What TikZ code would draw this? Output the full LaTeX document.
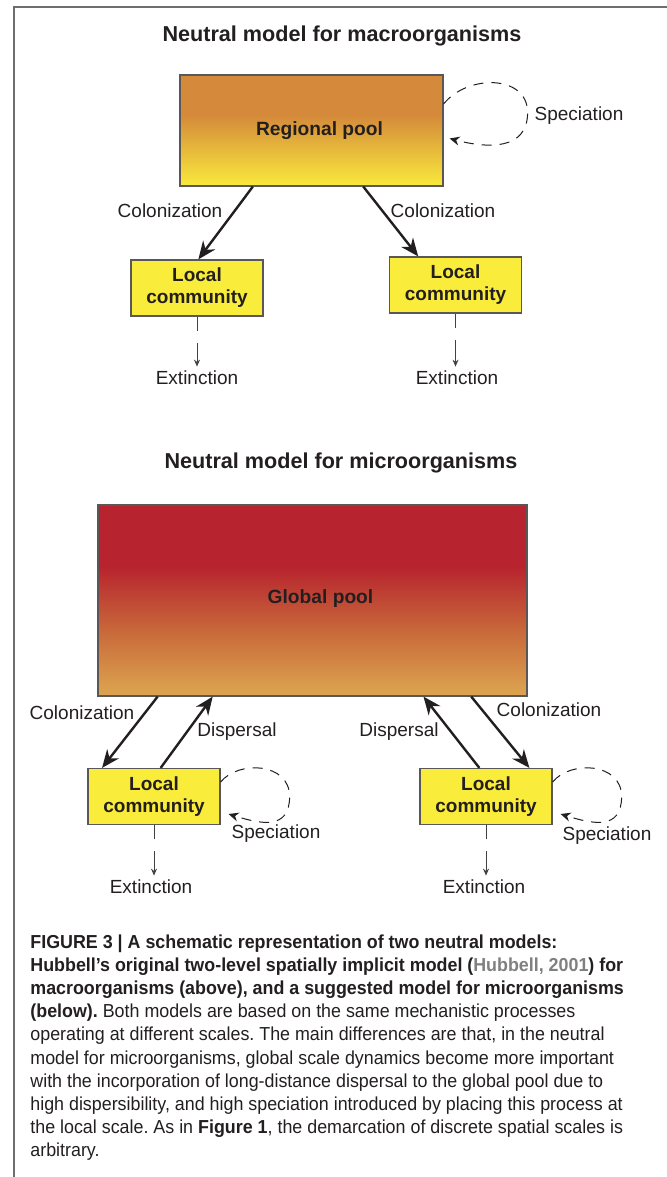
\documentclass[tikz,border=0pt]{standalone}
\usepackage{fontspec}
\setmainfont{Liberation Sans}
\newfontfamily\capfont[FakeStretch=0.95]{Liberation Sans}
\usetikzlibrary{calc}
\usetikzlibrary{arrows.meta}
\usepackage{xcolor}

\definecolor{ink}{RGB}{35,31,32}
\definecolor{framegray}{RGB}{110,110,110}
\definecolor{boxyellow}{RGB}{249,236,58}
\definecolor{regtop}{RGB}{212,138,58}
\definecolor{regbot}{RGB}{250,234,60}
\definecolor{globtop}{RGB}{183,35,46}
\definecolor{globmid}{RGB}{200,105,58}
\definecolor{globbot}{RGB}{221,166,80}
\definecolor{citegray}{RGB}{128,128,128}
\pgfdeclareverticalshading{regionalshade}{100bp}{color(0bp)=(regbot); color(25bp)=(regbot); color(57bp)=(regtop); color(100bp)=(regtop)}
\pgfdeclareverticalshading{globalshade}{100bp}{color(0bp)=(globbot); color(25bp)=(globbot); color(42bp)=(globmid); color(59bp)=(globtop); color(100bp)=(globtop)}

\tikzset{
  titletext/.style={font=\fontsize{10.8}{13}\selectfont\bfseries, text=ink, inner sep=0pt},
  poolbox/.style={draw=ink!75, line width=0.6pt, font=\fontsize{9.6}{11}\selectfont\bfseries, text=ink},
  localbox/.style={draw=ink!75, line width=0.6pt, fill=boxyellow, minimum width=66pt, minimum height=28pt, align=center, inner sep=0pt, font=\fontsize{9.5}{11}\selectfont\bfseries, text=ink},
  proclabel/.style={font=\fontsize{9.5}{11}\selectfont, text=ink, inner sep=0pt},
  flowarrow/.style={ink, line width=1.2pt, -{Stealth[length=9pt,width=7.5pt]}},
  specloop/.style={ink, line width=0.5pt, dash pattern=on 5pt off 4pt, -{Stealth[length=5pt,width=4.5pt]}},
  extarrow/.style={ink!85, line width=0.5pt, dash pattern=on 7pt off 6pt on 20pt off 0pt, -{Stealth[length=3.5pt,width=3pt]}, shorten >=2pt},
  captext/.style={font=\capfont\fontsize{9.4}{11.6}\selectfont\frenchspacing, text=ink, align=left, inner sep=0pt}
}

\begin{document}
\begin{tikzpicture}[x=0.5pt,y=-0.5pt]
\useasboundingbox (0,0) rectangle (667,1177);
\draw[framegray, line width=0.7pt] (14,1177) -- (14,7) -- (667,7);

% macroorganisms
\node[titletext] (titlemacro) at (342,36) {Neutral model for macroorganisms};
\node[poolbox, shading=regionalshade, minimum width=131.5pt, minimum height=55.5pt] (regional) at (311.5,130.5) {\hspace*{8pt}Regional pool};
\node[localbox] (lcA) at (197,288) {Local\\community};
\node[localbox] (lcB) at (455.5,285) {Local\\community};
\node[proclabel] (colA) at (170,211) {Colonization};
\node[proclabel] (colB) at (443,211) {Colonization};
\node[proclabel] (specR) at (579,116) {Speciation};
\node[proclabel] (exA) at (197,378) {Extinction};
\node[proclabel] (exB) at (457,378) {Extinction};

\draw[flowarrow] ($(regional.south west)!0.278!(regional.south east)$) -- ($(lcA.north west)!0.51!(lcA.north east)$);
\draw[flowarrow] ($(regional.south west)!0.696!(regional.south east)$) -- ($(lcB.north west)!0.22!(lcB.north east)$);
\draw[specloop] ($(regional.east)+(0,-26.5)$) .. controls +(24,-30) and +(0,-38) .. ($(regional.east)+(84,-18)$) .. controls +(0,38) and +(38,10) .. ($(regional.east)+(6,8)$);
\draw[extarrow] (lcA.south) -- (lcA.south |- exA.north);
\draw[extarrow] (lcB.south) -- (lcB.south |- exB.north);

% microorganisms
\node[titletext] (titlemicro) at (341,463) {Neutral model for microorganisms};
\node[poolbox, shading=globalshade, minimum width=214.5pt, minimum height=95.5pt] (global) at (312.5,600.5) {\hspace*{8pt}\raisebox{3.5pt}{Global pool}};
\node[localbox] (lcC) at (154,796.5) {Local\\community};
\node[localbox] (lcD) at (486,796.5) {Local\\community};
\node[proclabel] (colC) at (82,713) {Colonization};
\node[proclabel] (disC) at (237,732) {Dispersal};
\node[proclabel] (disD) at (399,732) {Dispersal};
\node[proclabel] (colD) at (549,710) {Colonization};
\node[proclabel] (specC) at (276,834) {Speciation};
\node[proclabel] (specD) at (607,836) {Speciation};
\node[proclabel] (exC) at (151,887) {Extinction};
\node[proclabel] (exD) at (484,887) {Extinction};

\draw[flowarrow] ($(global.south west)!0.14!(global.south east)$) -- ($(lcC.north west)!0.11!(lcC.north east)$);
\draw[flowarrow] ($(lcC.north west)!0.55!(lcC.north east)$) -- ($(global.south west)!0.268!(global.south east)$);
\draw[flowarrow] ($(lcD.north west)!0.45!(lcD.north east)$) -- ($(global.south west)!0.758!(global.south east)$);
\draw[flowarrow] ($(global.south west)!0.869!(global.south east)$) -- ($(lcD.north west)!0.826!(lcD.north east)$);
\draw[specloop] ($(lcC.east)+(0,-14.5)$) .. controls +(18,-22) and +(0,-34) .. ($(lcC.east)+(69,0)$) .. controls +(0,34) and +(32,10) .. ($(lcC.east)+(8,17.5)$);
\draw[specloop] ($(lcD.east)+(0,-14.5)$) .. controls +(18,-22) and +(0,-34) .. ($(lcD.east)+(69,0)$) .. controls +(0,34) and +(32,10) .. ($(lcD.east)+(8,17.5)$);
\draw[extarrow] (lcC.south) -- (lcC.south |- exC.north);
\draw[extarrow] (lcD.south) -- (lcD.south |- exD.north);

% caption
\node[captext, anchor=north west] (caption) at (30,934) {{\bfseries FIGURE 3 | A schematic representation of two neutral models:}\\
{\bfseries Hubbell’s original two-level spatially implicit model ({\color{citegray}Hubbell, 2001}) for}\\
{\bfseries macroorganisms (above), and a suggested model for microorganisms}\\
{\bfseries (below).} Both models are based on the same mechanistic processes\\
operating at different scales. The main differences are that, in the neutral\\
model for microorganisms, global scale dynamics become more important\\
with the incorporation of long-distance dispersal to the global pool due to\\
high dispersibility, and high speciation introduced by placing this process at\\
the local scale. As in {\bfseries Figure 1}, the demarcation of discrete spatial scales is\\
arbitrary.};
\end{tikzpicture}
\end{document}
